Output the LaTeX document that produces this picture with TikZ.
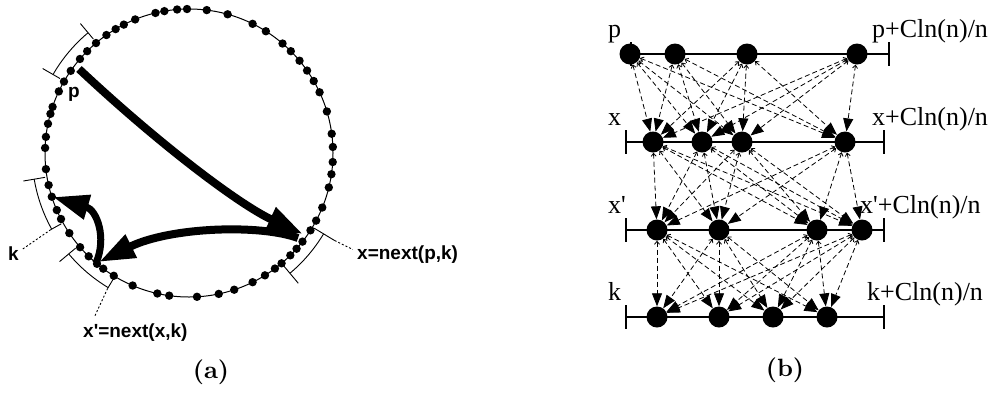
\documentclass[tikz,border=0pt]{standalone}
\usepackage{fontspec}
\newfontfamily\timesf{Liberation Serif}
\newfontfamily\helvf{Liberation Sans}
\newfontfamily\capfont{lmroman10-bold.otf}
\usetikzlibrary{calc,arrows.meta}
\tikzset{
  rimdot/.style={fill=black},
  bracket/.style={line width=0.9pt},
  leader/.style={line width=0.9pt, dash pattern=on 2pt off 2pt},
  bigarrow/.style={line width=8pt, -{Triangle[length=36pt,width=24pt]}},
  alabel/.style={font=\helvf\fontsize{19}{21}\selectfont\bfseries, inner sep=0pt, anchor=base west},
  blabel/.style={font=\timesf\fontsize{26}{28}\selectfont, inner sep=0pt, anchor=base west},
  caption/.style={font=\capfont\fontsize{25}{28}\selectfont, inner sep=0pt},
  dotb/.style={circle, fill=black, inner sep=0pt, minimum size=21pt},
  rowline/.style={line width=1.5pt},
  rowtick/.style={line width=2pt},
  conn/.style={line width=0.8pt, dash pattern=on 5pt off 3pt,
    {Straight Barb[length=3pt,width=5pt]}-{Triangle[length=13pt,width=10pt]}},
}
\begin{document}
\begin{tikzpicture}[x=1pt,y=-1pt]
\useasboundingbox (0,0) rectangle (993,392);
% ---------------- panel (a) ----------------
\coordinate (C) at (189,153);
\draw[line width=1pt] (C) circle[radius=144];
\foreach \a/\b in {135/19,155/11,164/9,177/8,187/8,207/8,228/13,253/23,266/31,283/43,291/51,298/62,305/72,312/82,318/93,325/112,330/134,332/147,332/162,330/174,327/187,321/207,315/220,310/230,303/242,298/250,291/256,283/265,276/270,266/277,253/283,234/289,219/295,197/297,169/297,157/295,132/287,113/277,103/269,96/265,88/257,78/249,68/234,61/219,57/210,51/197,49/185,47/169,47/148,47/137,49/124,51/114,53/107,58/91,63/81,71/71,80/59,88/52,96/43,105/33,115/28,123/23}
  \fill[rimdot] ($(C)!144pt!(\a,\b)$) circle[radius=4.2];
% brackets
% p bracket
\draw[bracket] ($(C)+(-130:157)$) arc[start angle=-130, end angle=-150, radius=157];
\draw[bracket] ($(C)+(-130:149)$) -- ($(C)+(-130:169)$);
\draw[bracket] ($(C)+(-150:149)$) -- ($(C)+(-150:169)$);
% k bracket
\draw[bracket] ($(C)+(-189.6:157)$) arc[start angle=-189.6, end angle=-209, radius=157];
\draw[bracket] ($(C)+(-189.6:146)$) -- ($(C)+(-189.6:168)$);
\draw[bracket] ($(C)+(-209:146)$) -- ($(C)+(-209:158)$);
\draw[leader] ($(C)+(-209:158)$) -- ($(C)+(-210:192)$);
% x' bracket
\draw[bracket] ($(C)+(-220:157)$) arc[start angle=-220, end angle=-239, radius=157];
\draw[bracket] ($(C)+(-220:148)$) -- ($(C)+(-220:169)$);
\draw[bracket] ($(C)+(-239:146)$) -- ($(C)+(-239:158)$);
\draw[leader] ($(C)+(-239:158)$) -- ($(C)+(-240:189)$);
% x bracket
\draw[bracket] ($(C)+(31:157)$) arc[start angle=31, end angle=50, radius=157];
\draw[bracket] ($(C)+(31:146)$) -- ($(C)+(31:170)$);
\draw[leader] ($(C)+(31:170)$) -- ($(C)+(30.5:190)$);
\draw[bracket] ($(C)+(50:146)$) -- ($(C)+(50:170)$);
% thick arrows
\coordinate (ap) at (79,69);
\coordinate (ax) at (303,234);
\coordinate (axs) at (298,238);
\coordinate (ay) at (99,262);
\coordinate (ays) at (96,263);
\coordinate (ak) at (53,197);
\draw[bigarrow] (ap) .. controls (160,145) and (240,205) .. (ax);
\draw[bigarrow] (axs) .. controls (260,224) and (170,227) .. (ay);
\draw[bigarrow, line width=7pt] (ays) .. controls (107,238) and (97,210) .. (ak);
% labels
\node[alabel] (lp) at (68,97) {p};
\node[alabel] (lk) at (8,260) {k};
\node[alabel] (lxx) at (83,337) {x'=next(x,k)};
\node[alabel] (lx) at (357,259) {x=next(p,k)};
\node[caption] (capa) at (211,372) {(a)};
% ---------------- panel (b) ----------------
\coordinate (pL) at (631,54); \coordinate (pR) at (889,54);
\coordinate (xL) at (626,142); \coordinate (xR) at (884,142);
\coordinate (yL) at (626,230); \coordinate (yR) at (884,230);
\coordinate (kL) at (626,317); \coordinate (kR) at (884,317);
\foreach \r in {p,x,y,k}{
  \draw[rowline] (\r L) -- (\r R);
  \draw[rowtick] ($(\r L)+(0,-12)$) -- ($(\r L)+(0,12)$);
  \draw[rowtick] ($(\r R)+(0,-12)$) -- ($(\r R)+(0,12)$);
}
\foreach \n/\x in {1/630,2/675,3/747,4/857} \node[dotb] (p\n) at (\x,54) {};
\foreach \n/\x in {1/653,2/702,3/742,4/845} \node[dotb] (x\n) at (\x,142) {};
\foreach \n/\x in {1/657,2/719,3/817,4/862} \node[dotb] (y\n) at (\x,230) {};
\foreach \n/\x in {1/657,2/719,3/773,4/827} \node[dotb] (k\n) at (\x,317) {};
\foreach \i in {1,...,4}{
  \foreach \j in {1,...,4}{
    \draw[conn] (p\i) -- (x\j);
    \draw[conn] (x\i) -- (y\j);
    \draw[conn] (y\i) -- (k\j);
  }
}
\node[blabel] (tp) at (608,37) {p};
\node[blabel] (tx) at (608,125) {x};
\node[blabel] (ty) at (608,213) {x'};
\node[blabel] (tk) at (608,300) {k};
\node[blabel] (rp) at (872,37) {p+Cln(n)/n};
\node[blabel] (rx) at (872,125) {x+Cln(n)/n};
\node[blabel] (ry) at (860,213) {x'+Cln(n)/n};
\node[blabel] (rk) at (867,300) {k+Cln(n)/n};
\node[caption] (capb) at (785,370) {(b)};
\end{tikzpicture}
\end{document}
